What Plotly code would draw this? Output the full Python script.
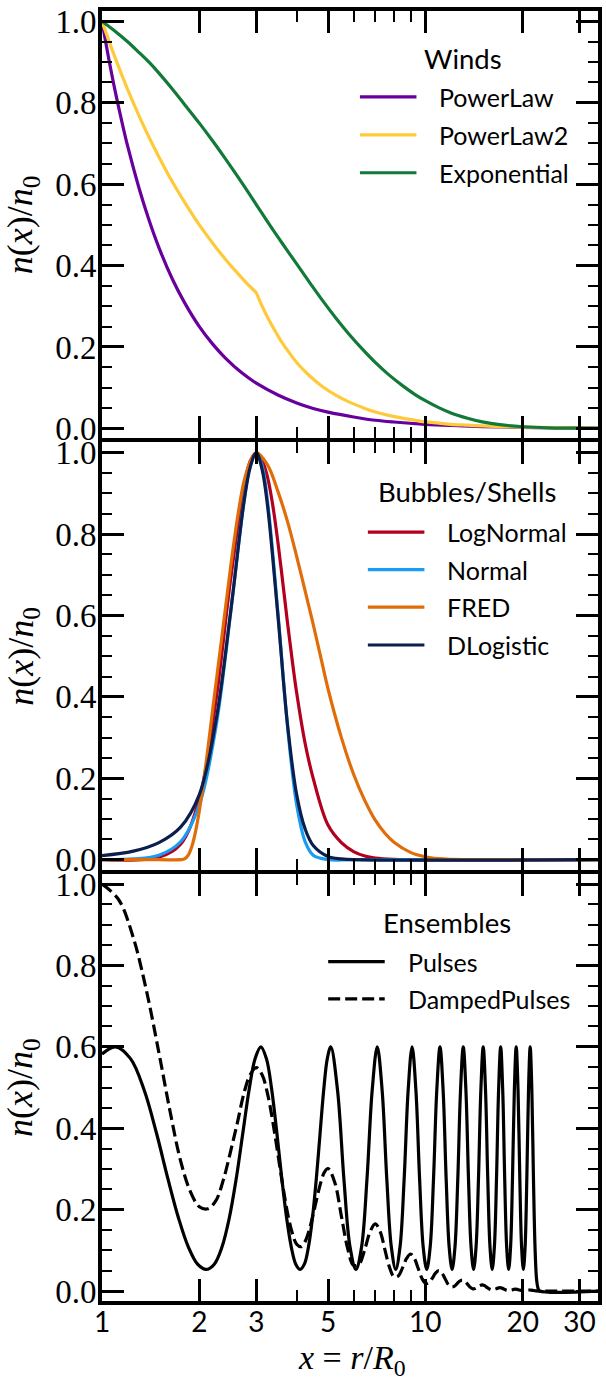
import math
import plotly.graph_objects as go
from plotly.subplots import make_subplots

# ---------------- data ----------------
# Winds
powerlaw_x = [1.0, 1.05, 1.1, 1.15, 1.2, 1.3, 1.4, 1.5, 1.65, 1.8, 2.0, 2.2, 2.4, 2.7, 3.0, 3.5, 4.0, 4.5,
              5.0, 6.0, 7.0, 8.0, 10.0, 12.0, 15.0, 20.0, 25.0, 34.3]
powerlaw_y = [1.0, 0.907, 0.826, 0.756, 0.694, 0.592, 0.51, 0.444, 0.367, 0.309, 0.25, 0.207, 0.174, 0.137,
              0.111, 0.082, 0.0625, 0.049, 0.04, 0.028, 0.020, 0.0156, 0.01, 0.007, 0.0044, 0.0025, 0.0016, 0.00085]

powerlaw2_x = [1.0, 1.1, 1.2, 1.3, 1.4, 1.5, 1.65, 1.8, 2.0, 2.2, 2.4, 2.6, 2.8, 2.95, 3.0, 3.05, 3.15, 3.3,
               3.45, 3.6, 3.8, 4.0, 4.4, 4.8, 5.3, 5.8, 6.4, 7.0, 7.7, 8.5, 9.3, 10.0, 11.0, 12.0, 13.5, 15.0,
               17.0, 20.0, 25.0, 34.3]
powerlaw2_y = [1.0, 0.909, 0.833, 0.769, 0.714, 0.667, 0.606, 0.556, 0.5, 0.455, 0.417, 0.385, 0.357, 0.339,
               0.333, 0.32, 0.295, 0.263, 0.236, 0.211, 0.185, 0.162, 0.128, 0.103, 0.081, 0.065, 0.051, 0.040,
               0.032, 0.025, 0.020, 0.016, 0.013, 0.010, 0.0078, 0.006, 0.0044, 0.003, 0.0017, 0.0008]

exponential_x = [1.0, 1.1, 1.2, 1.3, 1.4, 1.5, 1.65, 1.8, 2.0, 2.2, 2.4, 2.7, 3.0, 3.3, 3.6, 4.0, 4.4, 4.8,
                 5.3, 5.8, 6.4, 7.0, 7.7, 8.5, 9.3, 10.0, 11.0, 12.0, 13.5, 15.0, 17.0, 20.0, 24.0, 28.0, 34.3]
exponential_y = [1.0, 0.975, 0.95, 0.924, 0.899, 0.873, 0.834, 0.796, 0.75, 0.706, 0.664, 0.605, 0.55, 0.50,
                 0.456, 0.404, 0.357, 0.315, 0.27, 0.232, 0.194, 0.162, 0.132, 0.105, 0.083, 0.068, 0.051,
                 0.038, 0.025, 0.016, 0.009, 0.004, 0.0013, 0.0004, 0.0]

# Bubbles / Shells
lognormal_x = [1.0, 1.5, 1.75, 2.0, 2.25, 2.5, 2.75, 2.875, 3.0, 3.125, 3.25, 3.375, 3.5, 3.625, 3.75, 3.875,
               4.0, 4.25, 4.5, 5.0, 5.5, 6.0, 6.5, 7.0, 8.0, 34.3]
lognormal_y = [0.0, 0.006, 0.038, 0.15, 0.39, 0.69, 0.915, 0.98, 1.0, 0.982, 0.94, 0.87, 0.78, 0.68, 0.58, 0.49,
               0.41, 0.285, 0.2, 0.085, 0.042, 0.02, 0.009, 0.004, 0.001, 0.0]

normal_x = [1.0, 1.25, 1.5, 1.75, 2.0, 2.25, 2.5, 2.75, 2.875, 3.0, 3.125, 3.25, 3.5, 3.75, 4.0, 4.25, 4.5,
            5.0, 6.0, 34.3]
normal_y = [0.0003, 0.002, 0.011, 0.044, 0.135, 0.325, 0.607, 0.882, 0.969, 1.0, 0.969, 0.882, 0.607, 0.325,
            0.135, 0.044, 0.011, 0.0003, 0.0, 0.0]

fred_x = [1.0, 1.5, 1.75, 1.8, 1.85, 1.9, 1.95, 2.0, 2.1, 2.2, 2.35, 2.5, 2.625, 2.75, 2.875, 3.0, 3.25, 3.5,
          3.75, 4.0, 4.25, 4.5, 4.75, 5.0, 5.5, 6.0, 6.5, 7.0, 7.5, 8.0, 9.0, 10.0, 11.0, 12.0, 15.0, 34.3]
fred_y = [0.0, 0.0, 0.0, 0.002, 0.012, 0.035, 0.072, 0.12, 0.24, 0.37, 0.55, 0.72, 0.84, 0.93, 0.978, 1.0,
          0.97, 0.905, 0.83, 0.745, 0.66, 0.578, 0.497, 0.42, 0.30, 0.21, 0.145, 0.097, 0.065, 0.043, 0.018,
          0.007, 0.0025, 0.001, 0.0, 0.0]

dlogistic_x = [1.0, 1.25, 1.5, 1.75, 2.0, 2.25, 2.5, 2.75, 2.875, 3.0, 3.125, 3.25, 3.5, 3.75, 4.0, 4.25, 4.5,
               5.0, 5.5, 6.0, 34.3]
dlogistic_y = [0.01, 0.021, 0.042, 0.08, 0.16, 0.34, 0.61, 0.88, 0.965, 1.0, 0.96, 0.87, 0.6, 0.33, 0.16,
               0.075, 0.035, 0.008, 0.002, 0.0, 0.0]

# Ensembles
pulses_x = [
    1.0, 1.1,
    1.225, 1.35, 1.475, 1.6, 1.725, 1.85, 1.975, 2.1, 2.225, 2.35, 2.475, 2.6, 2.725, 2.85, 2.975, 3.1,
    3.225, 3.35, 3.475, 3.6, 3.725, 3.85, 3.975, 4.1, 4.225, 4.35, 4.475, 4.6, 4.725, 4.85, 4.975, 5.1,
    5.35, 5.6, 5.85, 6.1, 6.35, 6.6, 6.85, 7.1,
    7.35, 7.6, 7.85, 8.1, 8.35, 8.6, 8.85, 9.1,
    9.35, 9.6, 9.85, 10.1, 10.35, 10.6, 10.85, 11.1,
    11.35, 11.6, 11.85, 12.1, 12.35, 12.6, 12.85, 13.1,
    13.35, 13.6, 13.85, 14.1, 14.35, 14.6, 14.85, 15.1,
    15.35, 15.6, 15.85, 16.1, 16.35, 16.6, 16.85, 17.1,
    17.35, 17.6, 17.85, 18.1, 18.35, 18.6, 18.85, 19.1,
    19.35, 19.6, 19.85, 20.1, 20.35, 20.6, 20.85, 21.1,
    21.35, 21.6, 21.85, 22.1, 22.35, 22.6, 34.3,
]
pulses_y = [
    0.582, 0.6,
    0.571, 0.494, 0.387, 0.275, 0.179, 0.108, 0.066, 0.053, 0.066, 0.108, 0.179, 0.275, 0.387, 0.494, 0.571, 0.6,
    0.571, 0.494, 0.387, 0.275, 0.179, 0.108, 0.066, 0.053, 0.066, 0.108, 0.179, 0.275, 0.387, 0.494, 0.571, 0.6,
    0.494, 0.275, 0.108, 0.053, 0.108, 0.275, 0.494, 0.6,
    0.494, 0.275, 0.108, 0.053, 0.108, 0.275, 0.494, 0.6,
    0.494, 0.275, 0.108, 0.053, 0.108, 0.275, 0.494, 0.6,
    0.494, 0.275, 0.108, 0.053, 0.108, 0.275, 0.494, 0.6,
    0.494, 0.275, 0.108, 0.053, 0.108, 0.275, 0.494, 0.6,
    0.494, 0.275, 0.108, 0.053, 0.108, 0.275, 0.494, 0.6,
    0.494, 0.275, 0.108, 0.053, 0.108, 0.275, 0.494, 0.6,
    0.494, 0.275, 0.108, 0.053, 0.108, 0.275, 0.494, 0.6,
    0.494, 0.275, 0.103, 0.026, 0.005, 0.0, 0.0,
]

damped_x = [
    1.0, 1.125, 1.25, 1.375, 1.5, 1.625, 1.75, 1.875,
    2.0, 2.125, 2.25, 2.375, 2.5, 2.625, 2.75, 2.875,
    3.0, 3.125, 3.25, 3.375, 3.5, 3.625, 3.75, 3.875,
    4.0, 4.125, 4.25, 4.375, 4.5, 4.625, 4.75, 4.875,
    5.0, 5.25, 5.5, 5.75, 6.0, 6.25, 6.5, 6.75,
    7.0, 7.25, 7.5, 7.75, 8.0, 8.25, 8.5, 8.75,
    9.0, 9.25, 9.5, 9.75, 10.0, 10.25, 10.5, 10.75,
    11.0, 11.25, 11.5, 11.75, 12.0, 12.25, 12.5, 12.75,
    13.0, 13.25, 13.5, 13.75, 14.0, 14.25, 14.5, 14.75,
    15.0, 15.25, 15.5, 15.75, 16.0, 16.25, 16.5, 16.75,
    17.0, 17.25, 17.5, 17.75, 18.0, 18.25, 18.5, 18.75,
    19.0, 19.25, 19.5, 19.75, 20.0, 20.25, 20.5, 20.75,
    21.0, 21.25, 21.5, 21.75, 22.0, 22.5, 34.3,
]
damped_y = [
    1.0, 0.962, 0.868, 0.735, 0.585, 0.44, 0.32, 0.245,
    0.207, 0.202, 0.222, 0.274, 0.344, 0.415, 0.487, 0.532,
    0.549, 0.532, 0.485, 0.416, 0.336, 0.258, 0.191, 0.143,
    0.115, 0.109, 0.122, 0.150, 0.189, 0.230, 0.267, 0.292,
    0.301, 0.266, 0.184, 0.105, 0.063, 0.067, 0.103, 0.146,
    0.165, 0.146, 0.101, 0.058, 0.035, 0.037, 0.057, 0.080,
    0.091, 0.080, 0.056, 0.032, 0.019, 0.020, 0.031, 0.044,
    0.050, 0.044, 0.031, 0.017, 0.0104, 0.011, 0.017, 0.024,
    0.027, 0.024, 0.017, 0.0096, 0.0057, 0.006, 0.0094, 0.0132,
    0.015, 0.0132, 0.0091, 0.0053, 0.0031, 0.0034, 0.0050, 0.0072,
    0.0082, 0.0072, 0.0050, 0.0028, 0.0017, 0.0018, 0.0027, 0.0040,
    0.0045, 0.0040, 0.0027, 0.0016, 0.0010, 0.0010, 0.0015, 0.0022,
    0.0025, 0.0022, 0.0015, 0.0008, 0.0003, 0.0, 0.0,
]

x_ticks = [1, 2, 3, 5, 10, 20, 30]
x_minor_ticks = [4, 6, 7, 8, 9]
y_ticks = [0.0, 0.2, 0.4, 0.6, 0.8, 1.0]

# ---------------- figure ----------------
W, H = 606, 1382
ML, MR, MT, MB = 102, 4, 9, 81
PW, PH = W - ML - MR, H - MT - MB
FRAME = 4  # axis line width; panels are separated by exactly one line width

SERIF = "Liberation Serif"
SANS = "Lato"

fig = make_subplots(rows=3, cols=1, shared_xaxes=True, vertical_spacing=0)

panels = [
    ("Winds", 1, [
        ("PowerLaw", powerlaw_x, powerlaw_y, "#67009c", "solid"),
        ("PowerLaw2", powerlaw2_x, powerlaw2_y, "#ffca3a", "solid"),
        ("Exponential", exponential_x, exponential_y, "#127a38", "solid"),
    ]),
    ("Bubbles/Shells", 2, [
        ("LogNormal", lognormal_x, lognormal_y, "#b2001e", "solid"),
        ("Normal", normal_x, normal_y, "#1a9cf2", "solid"),
        ("FRED", fred_x, fred_y, "#e06d08", "solid"),
        ("DLogistic", dlogistic_x, dlogistic_y, "#0b1f4f", "solid"),
    ]),
    ("Ensembles", 3, [
        ("Pulses", pulses_x, pulses_y, "black", "solid"),
        ("DampedPulses", damped_x, damped_y, "black", "12px,5px"),
    ]),
]

for title, row, series in panels:
    for name, xs, ys, color, dash in series:
        fig.add_trace(
            go.Scatter(x=xs, y=ys, mode="lines", name=name,
                       line=dict(color=color, width=3.2, dash=dash, shape="spline", smoothing=1.0),
                       showlegend=False),
            row=row, col=1)


def px_x(p):
    return (p - ML) / PW


def px_y(p):
    return 1 - (p - MT) / PH


# stacked panel domains with a one-line-width gap between them
panel_h = (PH - 2 * FRAME) / 3
domains = []
for i in range(3):
    top = i * (panel_h + FRAME)
    domains.append([1 - (top + panel_h) / PH, 1 - top / PH])

# hand-placed legend blocks (title centre, sample line span, text start, row positions)
legend_layout = {
    "Winds": dict(title=(466, 57), line=(362, 419), text=440, rows=[95, 133, 171]),
    "Bubbles/Shells": dict(title=(470, 490), line=(370, 427), text=448, rows=[531, 568.5, 606, 644]),
    "Ensembles": dict(title=(450, 922), line=(330, 387), text=408, rows=[961, 998.5]),
}

shapes = []
annotations = []
for title, row, series in panels:
    lay = legend_layout[title]
    annotations.append(dict(text=title, xref="paper", yref="paper",
                            x=px_x(lay["title"][0]), y=px_y(lay["title"][1]),
                            xanchor="center", yanchor="middle", showarrow=False,
                            font=dict(family=SANS, size=27.5, color="black")))
    for (name, xs, ys, color, dash), ry in zip(series, lay["rows"]):
        shapes.append(dict(type="line", xref="paper", yref="paper",
                           x0=px_x(lay["line"][0]), x1=px_x(lay["line"][1]),
                           y0=px_y(ry), y1=px_y(ry),
                           line=dict(color=color, width=3.2, dash=dash)))
        annotations.append(dict(text=name, xref="paper", yref="paper",
                                x=px_x(lay["text"]), y=px_y(ry),
                                xanchor="left", yanchor="middle", showarrow=False,
                                font=dict(family=SANS, size=25, color="black")))

# y-axis titles, one per panel, centred on each panel
ylab = "<i>n</i>(<i>x</i>)/<i>n</i><sub>0</sub>"
for d in domains:
    annotations.append(dict(text=ylab, xref="paper", yref="paper",
                            x=px_x(22), y=(d[0] + d[1]) / 2, xanchor="center", yanchor="middle",
                            textangle=-90, showarrow=False,
                            font=dict(family=SERIF, size=36, color="black")))
# x-axis title
annotations.append(dict(text="<i>x</i> = <i>r</i>/<i>R</i><sub>0</sub>", xref="paper", yref="paper",
                        x=px_x(354), y=px_y(1360), xanchor="center", yanchor="middle",
                        showarrow=False, font=dict(family=SERIF, size=34, color="black")))

for row in (1, 2, 3):
    fig.update_xaxes(
        type="log", range=[0, math.log10(34.2)],
        showline=True, linewidth=FRAME, linecolor="black", mirror="allticks",
        ticks="inside", ticklen=22, tickwidth=2.5, tickcolor="black",
        tickmode="array", tickvals=x_ticks, ticktext=[str(v) for v in x_ticks],
        minor=dict(tickmode="array", tickvals=x_minor_ticks, ticks="inside",
                   ticklen=11, tickwidth=2, tickcolor="black", showgrid=False),
        showgrid=False, zeroline=False,
        tickfont=dict(family=SANS, size=28, color="black"),
        ticklabelstandoff=-7,
        row=row, col=1)
    fig.update_yaxes(
        range=[-0.0245, 1.0255], domain=domains[row - 1],
        showline=True, linewidth=FRAME, linecolor="black", mirror="allticks",
        ticks="inside", ticklen=22, tickwidth=2.5, tickcolor="black",
        tickmode="array", tickvals=y_ticks, ticktext=[f"{v:.1f}" for v in y_ticks],
        minor=dict(tick0=0, dtick=0.05, ticks="inside", ticklen=10, tickwidth=2,
                   tickcolor="black", showgrid=False),
        showgrid=False, zeroline=False,
        tickfont=dict(family=SERIF, size=33, color="black"),
        ticklabelstandoff=-5,
        row=row, col=1)

fig.update_layout(
    width=W, height=H,
    margin=dict(l=ML, r=MR, t=MT, b=MB, pad=0),
    paper_bgcolor="white", plot_bgcolor="white",
    shapes=shapes, annotations=annotations,
    showlegend=False,
)

fig.write_html("out.html")
